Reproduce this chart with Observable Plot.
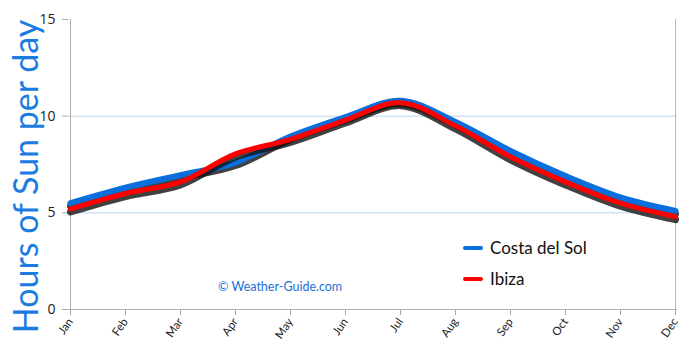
<!DOCTYPE html>
<html>
<head>
<meta charset="utf-8">
<script src="https://cdn.jsdelivr.net/npm/d3@7"></script>
<script src="https://cdn.jsdelivr.net/npm/@observablehq/plot@0.6"></script>
<style>
  html, body { margin: 0; padding: 0; background: #fff; }
  #wrap { position: relative; width: 690px; height: 352px; overflow: hidden; }
  #wrap svg { display: block; }
  g[aria-label^="y-axis"] text { fill: #222; font-size: 14px; font-family: "Open Sans", "DejaVu Sans", sans-serif; }
  g[aria-label^="x-axis"] text { fill: #222; font-size: 11.5px; font-family: "Lato", "Noto Sans", sans-serif; }
  .legend { position: absolute; left: 463px; font-family: "Lato", "Noto Sans", sans-serif; font-size: 17px; color: #111; display: flex; align-items: center; }
  .legend .sw { display: inline-block; width: 20px; height: 4px; border-radius: 2px; margin-right: 7px; }
  .copy { position: absolute; left: 218px; top: 279px; font-family: "Lato", "Noto Sans", sans-serif; font-size: 12.5px; color: #1a6fd6; }
</style>
</head>
<body>
<div id="wrap"></div>
<script>
const months = ["Jan","Feb","Mar","Apr","May","Jun","Jul","Aug","Sep","Oct","Nov","Dec"];
const costaDelSol = [5.5, 6.3, 6.95, 7.6, 8.95, 9.95, 10.8, 9.7, 8.2, 6.9, 5.8, 5.1];
const ibiza =       [5.2, 6.0, 6.6, 8.05, 8.8, 9.8, 10.7, 9.5, 7.9, 6.6, 5.5, 4.8];
const yTicks = [0, 5, 10, 15];
const gridValues = [5, 10];
const seriesNames = ["Costa del Sol", "Ibiza"];
const seriesColors = ["#0a6fdc", "#ff0000"];
const yTitle = ["Hours of Sun per day"];
const credit = "© Weather-Guide.com";

const costaData = months.map((m, i) => ({month: m, value: costaDelSol[i]}));
const ibizaData = months.map((m, i) => ({month: m, value: ibiza[i]}));

function shadow(data) {
  return Plot.line(data, {x: "month", y: "value", curve: "catmull-rom", stroke: "#111", strokeWidth: 7, strokeOpacity: 0.8, dy: 3});
}

const chart = Plot.plot({
  width: 690,
  height: 352,
  marginLeft: 68,
  marginRight: 13,
  marginTop: 19,
  marginBottom: 43,
  style: {background: "#fff", color: "#a8a8a8", fontFamily: "Lato, sans-serif", overflow: "visible"},
  x: {type: "point", domain: months, padding: 0, label: null, tickSize: 6, tickPadding: 4, tickRotate: -55},
  y: {domain: [0, 15], ticks: yTicks, label: null, tickSize: 6, tickPadding: 7},
  marks: [
    Plot.ruleY(gridValues, {stroke: "#bcd3ea", strokeWidth: 1}),
    Plot.ruleY([0], {stroke: "#b0b0b0"}),
    Plot.ruleX([months[0]], {stroke: "#b0b0b0"}),
    Plot.ruleX([months[months.length - 1]], {stroke: "#b8b8b8"}),
    shadow(costaData),
    Plot.line(costaData, {x: "month", y: "value", curve: "catmull-rom", stroke: seriesColors[0], strokeWidth: 6}),
    shadow(ibizaData),
    Plot.line(ibizaData, {x: "month", y: "value", curve: "catmull-rom", stroke: seriesColors[1], strokeWidth: 5}),
    Plot.text(yTitle, {frameAnchor: "left", textAnchor: "middle", rotate: -90, dx: -41, dy: 12, fill: "#1a7be0", fontSize: 34, fontFamily: "Lato, sans-serif", text: d => d})
  ]
});

const svg = chart.tagName.toLowerCase() === "svg" ? chart : chart.querySelector("svg");
// soft blur for the dark shadow lines
svg.querySelectorAll('path[stroke="#111"]').forEach(p => p.style.filter = "blur(1.3px)");

const wrap = document.getElementById("wrap");
wrap.appendChild(chart);

const legendTops = [237, 268];
seriesNames.forEach((name, i) => {
  const div = document.createElement("div");
  div.className = "legend";
  div.style.top = legendTops[i] + "px";
  div.innerHTML = `<span class="sw" style="background:${seriesColors[i]}"></span><span>${name}</span>`;
  wrap.appendChild(div);
});
const c = document.createElement("div");
c.className = "copy";
c.textContent = credit;
wrap.appendChild(c);
</script>
</body>
</html>
